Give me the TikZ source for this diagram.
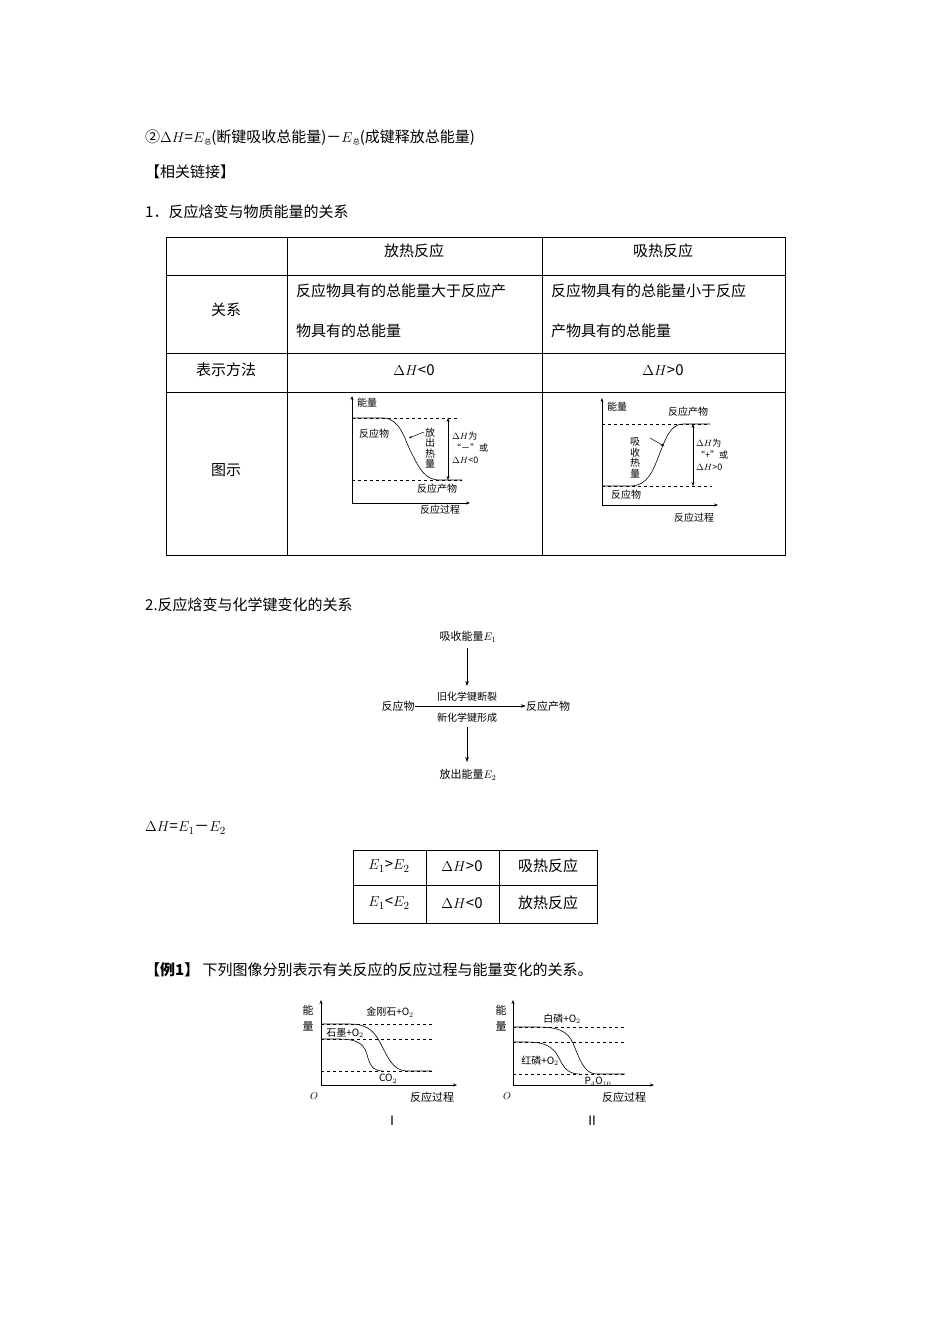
\documentclass[tikz,border=0pt]{standalone}
\usepackage{fontspec}
\setmainfont{Noto Sans CJK SC}
\usetikzlibrary{arrows.meta}
\begin{document}
\begin{tikzpicture}[x=1pt,y=-1pt,
  txt/.style={inner sep=0pt,font=\fontsize{15}{15}\selectfont},
  sm/.style={inner sep=0pt,font=\fontsize{10}{11}\selectfont},
  ax/.style={line width=0.6pt,-{Stealth[length=4pt,width=3pt]}},
  dl/.style={dashed,line width=0.5pt},
  cv/.style={line width=0.6pt},
  grid/.style={line width=0.7pt},
  ar/.style={line width=0.6pt,-{Stealth[length=5pt,width=3.5pt]}}]
\useasboundingbox (0,0) rectangle (950,1344);
\fill[white] (0,0) rectangle (950,1344);
% top text
\node[txt,anchor=west] (l1) at (145,138) {②$\Delta H$=$E$\raisebox{-2pt}{\fontsize{7}{7}\selectfont 总}(断键吸收总能量)－$E$\raisebox{-2pt}{\fontsize{7}{7}\selectfont 总}(成键释放总能量)};
\node[txt,anchor=west] (l2) at (145,172) {【相关链接】};
\node[txt,anchor=west] (l3) at (145,212) {1．反应焓变与物质能量的关系};
% table 1
\draw[grid] (166,237) rectangle (785,555);
\foreach \y in {275,353,392} \draw[grid] (166,\y) -- (785,\y);
\draw[grid] (287,237) -- (287,555);
\draw[grid] (542,237) -- (542,555);
\node[txt] (h1) at (414,251) {放热反应};
\node[txt] (h2) at (663,251) {吸热反应};
\node[txt] (r1) at (226,310) {关系};
\node[txt,anchor=west] (r1a) at (296,291) {反应物具有的总能量大于反应产};
\node[txt,anchor=west] (r1b) at (296,331) {物具有的总能量};
\node[txt,anchor=west] (r1c) at (551,291) {反应物具有的总能量小于反应};
\node[txt,anchor=west] (r1d) at (551,331) {产物具有的总能量};
\node[txt] (r2) at (226,370) {表示方法};
\node[txt] (r2a) at (414,370) {$\Delta H$<0};
\node[txt] (r2b) at (663,370) {$\Delta H$>0};
\node[txt] (r3) at (226,470) {图示};
% left diagram
\draw[ax] (352,503) -- (352,396);
\draw[ax] (352,503) -- (470,503);
\draw[dl] (352,418) -- (460,418);
\draw[dl] (352,480) -- (462,480);
\draw[cv] (352,418) -- (383,418) .. controls (400,418) and (405,440) .. (410,450) .. controls (420,470) and (425,480) .. (440,480) -- (462,480);
\draw[line width=0.5pt,{Stealth[length=4pt,width=3pt]}-{Stealth[length=4pt,width=3pt]}] (448,418) -- (448,480);
\node[sm,anchor=west] (a1) at (357,403) {能量};
\node[sm] (a2) at (374,434) {反应物};
\node[sm,align=center,font=\fontsize{10}{10.5}\selectfont] (a3) at (430,448) {放\\出\\热\\量};
\draw[line width=0.5pt,-{Stealth[length=3pt,width=2.5pt]}] (424,432) -- (409,438);
\node[sm,anchor=west,align=left,font=\fontsize{9}{12}\selectfont] (a4) at (452,448) {$\Delta H$为\\“－”或\\$\Delta H$<0};
\node[sm] (a5) at (437,489) {反应产物};
\node[sm] (a6) at (440,510) {反应过程};
% right diagram
\draw[ax] (602,505) -- (602,398);
\draw[ax] (602,505) -- (718,505);
\draw[dl] (602,424) -- (710,424);
\draw[dl] (602,486) -- (712,486);
\draw[cv] (602,486) -- (630,486) .. controls (648,486) and (653,470) .. (658,458) .. controls (665,440) and (670,424) .. (683,424) -- (710,424);
\draw[line width=0.5pt,{Stealth[length=4pt,width=3pt]}-{Stealth[length=4pt,width=3pt]}] (693,424) -- (693,486);
\node[sm,anchor=west] (b1) at (607,407) {能量};
\node[sm] (b2) at (688,412) {反应产物};
\node[sm,align=center,font=\fontsize{10}{10.5}\selectfont] (b3) at (635,458) {吸\\收\\热\\量};
\draw[line width=0.5pt,-{Stealth[length=3pt,width=2.5pt]}] (650,438) -- (664,446);
\node[sm,anchor=west,align=left,font=\fontsize{9}{12}\selectfont] (b4) at (696,455) {$\Delta H$为\\“+”或\\$\Delta H$>0};
\node[sm] (b5) at (626,495) {反应物};
\node[sm] (b6) at (694,518) {反应过程};
% section 2
\node[txt,anchor=west] (s2) at (145,605) {2.反应焓变与化学键变化的关系};
\node[sm,font=\fontsize{11}{11}\selectfont] (e1) at (468,637) {吸收能量$E_1$};
\node[sm,font=\fontsize{11}{11}\selectfont] (re) at (398,706) {反应物};
\node[sm,font=\fontsize{11}{11}\selectfont] (pr) at (548,706) {反应产物};
\node[sm,font=\fontsize{11}{11}\selectfont] (e2) at (468,775) {放出能量$E_2$};
\coordinate (c0) at (467,648);
\coordinate (c1) at (467,686);
\coordinate (c2) at (467,727);
\coordinate (c3) at (467,762);
\draw[ar] (c0) -- (c1);
\draw[ar] (re.east) -- (pr.west);
\draw[ar] (c2) -- (c3);
\node[sm] (k1) at (467,697) {旧化学键断裂};
\node[sm] (k2) at (467,718) {新化学键形成};
\node[txt,anchor=west] (dh) at (145,828) {$\Delta H$=$E_1$－$E_2$};
% table 2
\draw[grid] (353,850) rectangle (597,923);
\draw[grid] (353,885) -- (597,885);
\draw[grid] (426,850) -- (426,923);
\draw[grid] (499,850) -- (499,923);
\node[txt] (t1) at (389,866) {$E_1$>$E_2$};
\node[txt] (t2) at (462,866) {$\Delta H$>0};
\node[txt] (t3) at (548,866) {吸热反应};
\node[txt] (t4) at (389,903) {$E_1$<$E_2$};
\node[txt] (t5) at (462,903) {$\Delta H$<0};
\node[txt] (t6) at (548,903) {放热反应};
\node[txt,anchor=west] (ex) at (145,970) {\textbf{【例1】}\ 下列图像分别表示有关反应的反应过程与能量变化的关系。};
% diagram I
\draw[ax] (321,1085) -- (321,1000);
\draw[ax] (321,1085) -- (457,1085);
\draw[dl] (321,1024) -- (432,1024);
\draw[dl] (321,1039) -- (432,1039);
\draw[dl] (321,1071) -- (432,1071);
\draw[cv] (321,1024) -- (350,1024) .. controls (375,1024) and (378,1040) .. (385,1052) .. controls (392,1066) and (398,1071) .. (408,1071) -- (432,1071);
\draw[cv] (321,1039) -- (338,1039) .. controls (360,1039) and (365,1045) .. (368,1058) .. controls (371,1068) and (375,1071) .. (383,1071);
\node[sm,font=\fontsize{11}{11}\selectfont] (m1) at (308,1010) {能};
\node[sm,font=\fontsize{11}{11}\selectfont] (m2) at (308,1026) {量};
\node[sm] (m3) at (390,1012) {金刚石+O$_2$};
\node[sm] (m4) at (345,1033) {石墨+O$_2$};
\node[sm] (m5) at (388,1079) {CO$_2$};
\node[sm] (m6) at (314,1096) {$O$};
\node[sm,font=\fontsize{11}{11}\selectfont] (m7) at (432,1097) {反应过程};
\node[sm,font=\fontsize{13}{13}\selectfont] (m8) at (392,1121) {Ⅰ};
% diagram II
\draw[ax] (513,1085) -- (513,1000);
\draw[ax] (513,1085) -- (654,1085);
\draw[dl] (513,1027) -- (625,1027);
\draw[dl] (513,1042) -- (625,1042);
\draw[dl] (513,1074) -- (625,1074);
\draw[cv] (513,1027) -- (538,1027) .. controls (565,1027) and (570,1035) .. (575,1048) .. controls (582,1066) and (587,1074) .. (597,1074) -- (625,1074);
\draw[cv] (513,1042) -- (527,1042) .. controls (550,1042) and (555,1050) .. (560,1060) .. controls (565,1070) and (570,1074) .. (580,1074);
\node[sm,font=\fontsize{11}{11}\selectfont] (n1) at (501,1010) {能};
\node[sm,font=\fontsize{11}{11}\selectfont] (n2) at (501,1026) {量};
\node[sm] (n3) at (562,1019) {白磷+O$_2$};
\node[sm] (n4) at (540,1061) {红磷+O$_2$};
\node[sm] (n5) at (598,1082) {P$_4$O$_{10}$};
\node[sm] (n6) at (507,1096) {$O$};
\node[sm,font=\fontsize{11}{11}\selectfont] (n7) at (624,1097) {反应过程};
\node[sm,font=\fontsize{13}{13}\selectfont] (n8) at (592,1121) {Ⅱ};
\end{tikzpicture}
\end{document}
